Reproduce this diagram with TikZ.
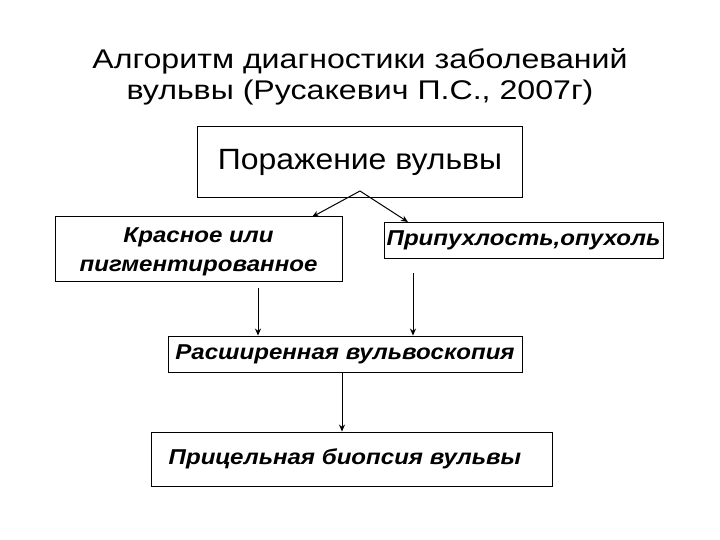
\documentclass[tikz,border=0pt]{standalone}
\usepackage{fontspec}
\usepackage{graphicx}
\setmainfont{Liberation Sans}
\usetikzlibrary{arrows.meta,calc}
\newcommand{\sxa}[1]{\scalebox{1.19}[1]{#1}}
\newcommand{\sxb}[1]{\scalebox{1.09}[1]{#1}}
\newcommand{\sxc}[1]{\scalebox{1.12}[1]{#1}}
\begin{document}
\begin{tikzpicture}[x=1pt,y=-1pt,
  box/.style={draw,line width=0.9pt,rectangle,inner sep=0pt,align=center},
  smalltext/.style={font=\fontsize{21.5}{29}\selectfont\bfseries\itshape},
  arr/.style={line width=1pt,-{Stealth[length=7pt,width=6pt]}}]
\useasboundingbox (0,0) rectangle (720,540);
\node[align=center,font=\fontsize{27}{31}\selectfont] (title) at (360,77)
  {\sxa{Алгоритм диагностики заболеваний}\\\sxa{вульвы (Русакевич П.С., 2007г)}};
\node[box,minimum width=325pt,minimum height=71pt,font=\fontsize{29.3}{34}\selectfont] (b1) at (360,162) {\sxb{Поражение вульвы}};
\node[box,minimum width=287pt,minimum height=65pt] (b2) at (198.5,248.5) {};
\node[smalltext,align=center,inner sep=0pt] (t2) at (198.5,252) {\sxc{Красное или}\\\sxc{пигментированное}};
\node[box,smalltext,minimum width=279pt,minimum height=36pt] (b3) at (523.5,240) {\sxc{Припухлость,опухоль}};
\node[box,smalltext,minimum width=354pt,minimum height=36pt] (b4) at (345,354) {\sxc{Расширенная вульвоскопия}};
\node[box,smalltext,minimum width=401pt,minimum height=54pt] (b5) at (351.5,459) {\raisebox{-4pt}{\sxc{Прицельная биопсия вульвы}}\hspace*{13pt}};
\coordinate (split) at (360,191);
\coordinate (e1) at (312,217);
\coordinate (e2) at (408,222);
\draw[arr] (split) -- (e1);
\draw[arr] (split) -- (e2);
\coordinate (a1) at (258,288);
\coordinate (a2) at (413,273);
\coordinate (a3) at (342,372);
\draw[arr] (a1) -- (a1 |- b4.north);
\draw[arr] (a2) -- (a2 |- b4.north);
\draw[arr] (a3) -- (a3 |- b5.north);
\end{tikzpicture}
\end{document}
